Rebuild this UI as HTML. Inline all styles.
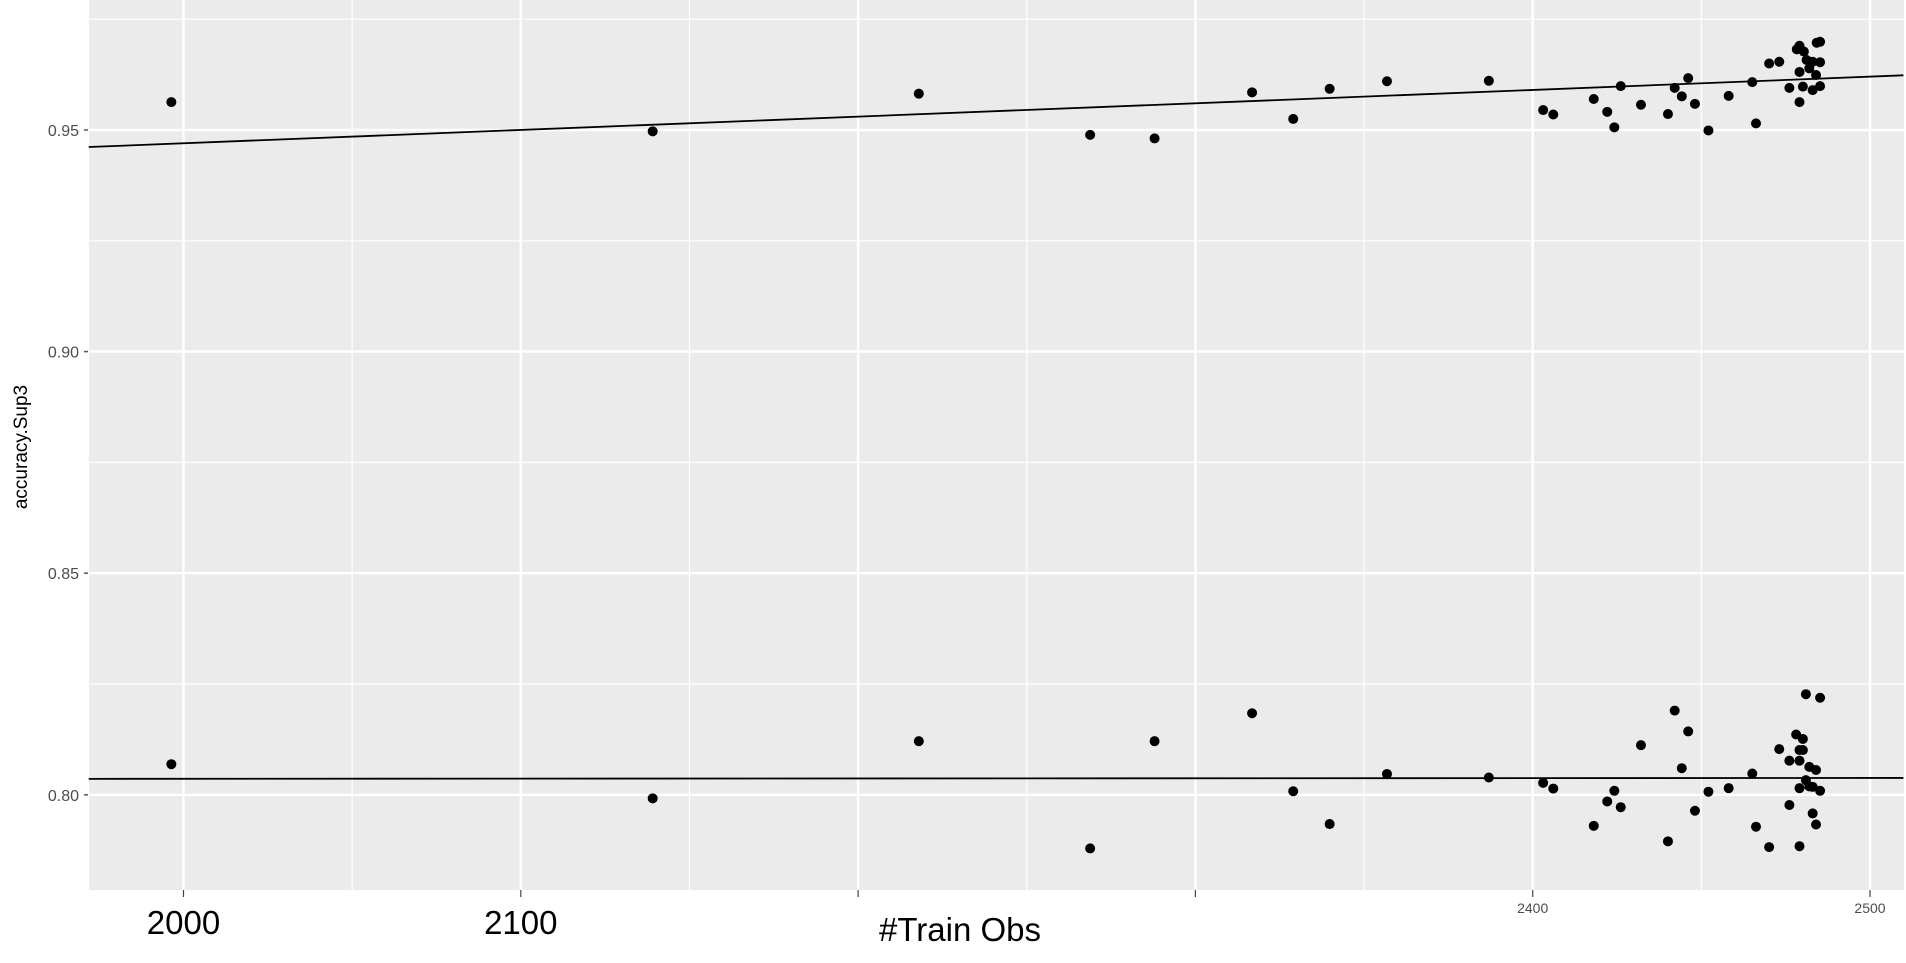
<!DOCTYPE html>
<html><head><meta charset="utf-8"><style>
body{margin:0;background:#fff;width:1906px;height:958px;overflow:hidden;font-family:"Liberation Sans",sans-serif}
</style></head><body>
<svg id="chart" width="1906" height="958" xmlns="http://www.w3.org/2000/svg"></svg>
<script>
const xTicks=[2000,2100,2200,2300,2400,2500];
const xMinor=[1950,2050,2150,2250,2350,2450];
const yTicks=[0.80,0.85,0.90,0.95];
const yTickLabels=["0.80","0.85","0.90","0.95"];
const yMinor=[0.775,0.825,0.875,0.925,0.975];
const upperX=[1996.4,2139.1,2218.0,2268.8,2287.9,2316.8,2329.0,2339.8,2356.8,2387.0,2403.1,2406.1,2418.1,2422.1,2424.2,2426.1,2432.1,2440.1,2442.1,2444.2,2446.1,2448.1,2452.1,2458.1,2465.1,2466.2,2470.1,2473.1,2476.1,2478.3,2479.1,2479.1,2479.1,2480.1,2480.4,2481.2,2482.0,2483.0,2483.0,2484.0,2484.2,2485.2,2485.2,2485.2];
const upperY=[0.9563,0.9497,0.9582,0.9489,0.9481,0.9585,0.9525,0.9593,0.9610,0.9611,0.9545,0.9535,0.9570,0.9541,0.9506,0.9599,0.9557,0.9536,0.9595,0.9576,0.9617,0.9559,0.9499,0.9577,0.9608,0.9515,0.9650,0.9654,0.9595,0.9682,0.9690,0.9631,0.9563,0.9598,0.9677,0.9658,0.9639,0.9654,0.9590,0.9624,0.9697,0.9699,0.9653,0.9599];
const lowerX=[1996.4,2139.1,2218.0,2268.8,2287.9,2316.8,2329.0,2339.8,2356.8,2387.0,2403.1,2406.1,2418.1,2422.1,2424.2,2426.1,2432.1,2440.1,2442.1,2444.2,2446.1,2448.1,2452.1,2458.1,2465.1,2466.2,2470.1,2473.1,2476.1,2476.1,2478.1,2479.1,2479.1,2479.1,2479.1,2480.1,2480.1,2481.0,2481.0,2482.0,2482.0,2483.0,2483.0,2484.0,2484.0,2485.2,2485.2];
const lowerY=[0.8069,0.7992,0.8121,0.7879,0.8121,0.8184,0.8008,0.7934,0.8047,0.8039,0.8027,0.8014,0.7930,0.7985,0.8009,0.7972,0.8112,0.7895,0.8190,0.8060,0.8143,0.7964,0.8007,0.8015,0.8048,0.7928,0.7882,0.8103,0.8077,0.7977,0.8136,0.8101,0.8077,0.8015,0.7884,0.8126,0.8101,0.8227,0.8033,0.8063,0.8019,0.8018,0.7958,0.8056,0.7933,0.8219,0.8009];
const fitUpperX=[1971.9,2509.9], fitUpperY=[0.94616,0.96234];
const fitLowerX=[1971.9,2509.9], fitLowerY=[0.8036,0.8038];

const NS="http://www.w3.org/2000/svg";
const svg=document.getElementById('chart');
const L=89,R=1904,T=0,B=890;
const sx=v=>183.5+(v-2000)*3.373;
const sy=v=>130+(0.95-v)*4432;
function mk(tag,attrs,parent){const e=document.createElementNS(NS,tag);for(const k in attrs)e.setAttribute(k,attrs[k]);(parent||svg).appendChild(e);return e;}

const panel=mk('rect',{x:L,y:T,width:R-L,height:B-T,fill:'#ebebeb'});


xMinor.forEach(v=>{const l=mk('line',{x1:sx(v),x2:sx(v),y1:T,y2:B,stroke:'#fff','stroke-width':1.2});

});
yMinor.forEach(v=>{const l=mk('line',{x1:L,x2:R,y1:sy(v),y2:sy(v),stroke:'#fff','stroke-width':1.2});

});
xTicks.forEach(v=>{const l=mk('line',{x1:sx(v),x2:sx(v),y1:T,y2:B,stroke:'#fff','stroke-width':2.4});


const t=mk('line',{x1:sx(v),x2:sx(v),y1:B,y2:B+7,stroke:'#444','stroke-width':1.2});

});
yTicks.forEach((v,i)=>{const l=mk('line',{x1:L,x2:R,y1:sy(v),y2:sy(v),stroke:'#fff','stroke-width':2.4});


const t=mk('line',{x1:L-5,x2:L-1,y1:sy(v),y2:sy(v),stroke:'#555','stroke-width':1.5});


const tx=mk('text',{x:L-10,y:sy(v)+6,'text-anchor':'end','font-size':16,fill:'#4d4d4d'});
tx.textContent=yTickLabels[i];

});

function fit(xs,ys,name){const l=mk('line',{x1:sx(xs[0]),y1:sy(ys[0]),x2:sx(xs[1]),y2:sy(ys[1]),stroke:'#000','stroke-width':1.8});

}
fit(fitUpperX,fitUpperY,'upper-fit-line');
fit(fitLowerX,fitLowerY,'lower-fit-line');
upperX.forEach((x,i)=>{const c=mk('circle',{cx:sx(x),cy:sy(upperY[i]),r:5,fill:'#000'});

});
lowerX.forEach((x,i)=>{const c=mk('circle',{cx:sx(x),cy:sy(lowerY[i]),r:5,fill:'#000'});

});

const yt=mk('text',{x:0,y:0,transform:'translate(27,447) rotate(-90)','text-anchor':'middle','font-size':19,fill:'#000'});
yt.textContent='accuracy.Sup3';



const box=mk('rect',{x:640,y:905,width:644,height:53,fill:'#fff'});


function lbl(x,y,s,txt,col,name){const t=mk('text',{x:x,y:y,'text-anchor':'middle','font-size':s,fill:col});t.textContent=txt;

}
lbl(sx(2000),934,33,'2000','#000','x-tick-label');
lbl(sx(2100),934,33,'2100','#000','x-tick-label');
lbl(sx(2400),913,14,'2400','#4d4d4d','x-tick-label');
lbl(sx(2500),913,14,'2500','#4d4d4d','x-tick-label');
lbl(960,941,33,'#Train Obs','#000','x-axis-title');
</script>
</body></html>
